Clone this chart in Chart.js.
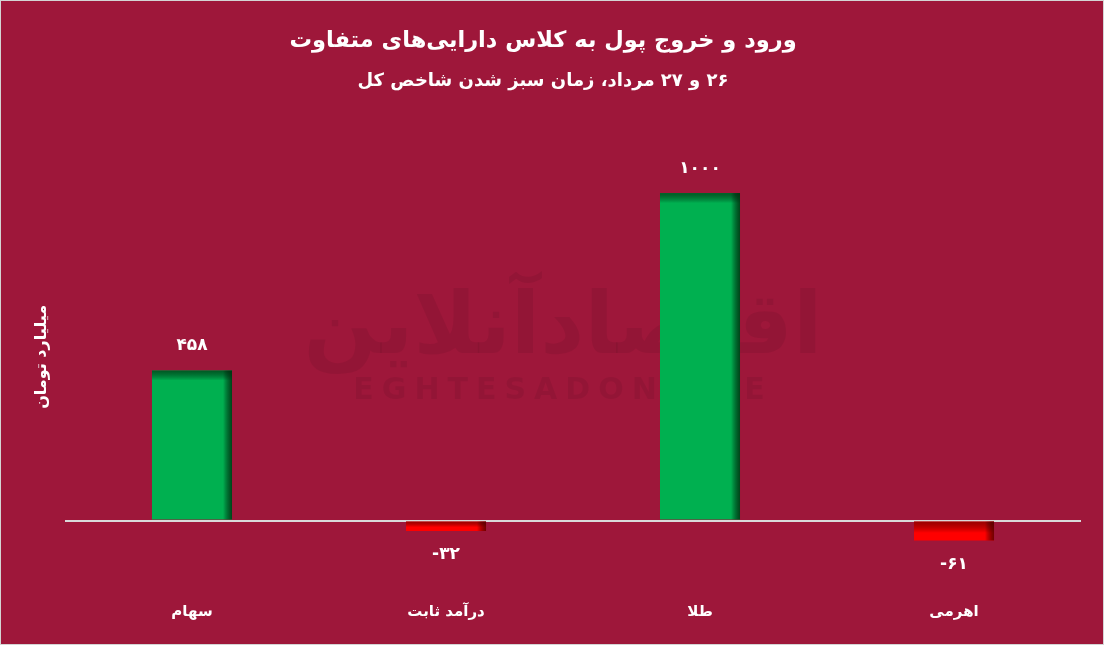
<!DOCTYPE html>
<html>
<head>
<meta charset="utf-8">
<script src="https://cdn.jsdelivr.net/npm/chart.js@4.4.1/dist/chart.umd.min.js"></script>
<style>
  html, body { margin: 0; padding: 0; }
  #wrap {
    width: 1104px; height: 645px; box-sizing: border-box;
    border: 1px solid #d4d4d4; background: #9e173a; position: relative;
  }
  #wrap canvas { display: block; }
</style>
</head>
<body>
<div id="wrap"><canvas id="canvas" dir="rtl"></canvas></div>
<script>
const categories = ["سهام", "درآمد ثابت", "طلا", "اهرمی"];
const values = [458, -32, 1000, -61];
// LRO/PDF keep the minus sign on the left as in the picture
const valueLabels = ["۴۵۸", "\u202D-۳۲\u202C", "۱۰۰۰", "\u202D-۶۱\u202C"];

const titleText = "ورود و خروج پول به کلاس دارایی‌های متفاوت";
const subtitleText = "۲۶ و ۲۷ مرداد، زمان سبز شدن شاخص کل";
const yTitle = "میلیارد تومان";

const fontFamily = "'DejaVu Sans', sans-serif";

// faint logo behind the bars
const watermark = {
    id: "watermark",
    beforeDatasetsDraw(chart) {
        const ctx = chart.ctx;
        const a = chart.chartArea;
        const cx = (a.left + a.right) / 2 - 10;
        ctx.save();
        ctx.fillStyle = "rgba(0,0,0,0.065)";
        ctx.textAlign = "center";
        ctx.textBaseline = "middle";
        ctx.font = "bold 86px " + fontFamily;
        ctx.direction = "rtl";
        ctx.fillText("اقتصادآنلاین", cx, 330);
        ctx.direction = "ltr";
        ctx.font = "bold 30px " + fontFamily;
        if ("letterSpacing" in ctx) ctx.letterSpacing = "8px";
        ctx.fillText("EGHTESADONLINE", cx, 390);
        ctx.restore();
    }
};

// shading on top and right edges of each bar + value labels
const barDecor = {
    id: "barDecor",
    afterDatasetsDraw(chart) {
        const ctx = chart.ctx;
        const meta = chart.getDatasetMeta(0);
        meta.data.forEach((bar, i) => {
            const left = bar.x - bar.width / 2;
            const right = bar.x + bar.width / 2;
            const top = Math.min(bar.y, bar.base);
            const bottom = Math.max(bar.y, bar.base);
            const h = bottom - top;
            const pos = values[i] >= 0;
            ctx.save();
            // top shading
            const th = pos ? 10 : h * 0.6;
            let g = ctx.createLinearGradient(0, top, 0, top + th);
            g.addColorStop(0, pos ? "rgba(0,60,20,0.75)" : "rgba(90,0,0,0.6)");
            g.addColorStop(1, "rgba(0,0,0,0)");
            ctx.fillStyle = g;
            ctx.fillRect(left, top, bar.width, th);
            // right shading
            const rw = 9;
            g = ctx.createLinearGradient(right - rw, 0, right, 0);
            g.addColorStop(0, "rgba(0,0,0,0)");
            g.addColorStop(1, pos ? "rgba(0,50,15,0.85)" : "rgba(80,0,0,0.8)");
            ctx.fillStyle = g;
            ctx.fillRect(right - rw, top, rw, h);
            // value label
            ctx.fillStyle = "#ffffff";
            ctx.font = "bold 17px " + fontFamily;
            ctx.textAlign = "center";
            ctx.textBaseline = "middle";
            ctx.direction = "ltr";
            const ly = pos ? bar.y - 25 : bar.y + 24;
            ctx.fillText(valueLabels[i], bar.x, ly);
            ctx.restore();
        });
    }
};

const canvas = document.getElementById("canvas");
const chart = new Chart(canvas, {
    type: "bar",
    data: {
        labels: categories,
        datasets: [{
            data: values,
            backgroundColor: values.map(v => v >= 0 ? "#00b050" : "#ff0000"),
            borderWidth: 0,
            barPercentage: 0.315,
            categoryPercentage: 1
        }]
    },
    options: {
        responsive: true,
        maintainAspectRatio: false,
        animation: false,
        layout: { padding: { left: 4, right: 22, top: 0, bottom: 0 } },
        plugins: {
            legend: { display: false },
            tooltip: { enabled: false },
            title: {
                display: true,
                text: titleText,
                color: "#ffffff",
                font: { family: fontFamily, size: 22.5, weight: "bold" },
                padding: { top: 27, bottom: 8 }
            },
            subtitle: {
                display: true,
                text: subtitleText,
                color: "#ffffff",
                font: { family: fontFamily, size: 18, weight: "bold" },
                padding: { top: 8, bottom: 35 }
            }
        },
        scales: {
            x: {
                grid: { display: false, drawTicks: false },
                border: { display: false },
                ticks: {
                    color: "#ffffff",
                    padding: 17,
                    font: { family: fontFamily, size: 15, weight: "bold" }
                },
                afterFit(s) { s.height = 58; }
            },
            y: {
                min: -200,
                max: 1200,
                ticks: { display: false, stepSize: 200 },
                border: { display: false },
                grid: {
                    drawTicks: false,
                    color: ctx => ctx.tick && ctx.tick.value === 0 ? "#d9d9d9" : "rgba(0,0,0,0)",
                    lineWidth: ctx => ctx.tick && ctx.tick.value === 0 ? 2 : 0
                },
                title: {
                    display: true,
                    text: yTitle,
                    color: "#ffffff",
                    font: { family: fontFamily, size: 16, weight: "bold" },
                    padding: { top: 27, bottom: 4 }
                },
                afterFit(s) { s.width = 60; }
            }
        }
    },
    plugins: [watermark, barDecor]
});
</script>
</body>
</html>
